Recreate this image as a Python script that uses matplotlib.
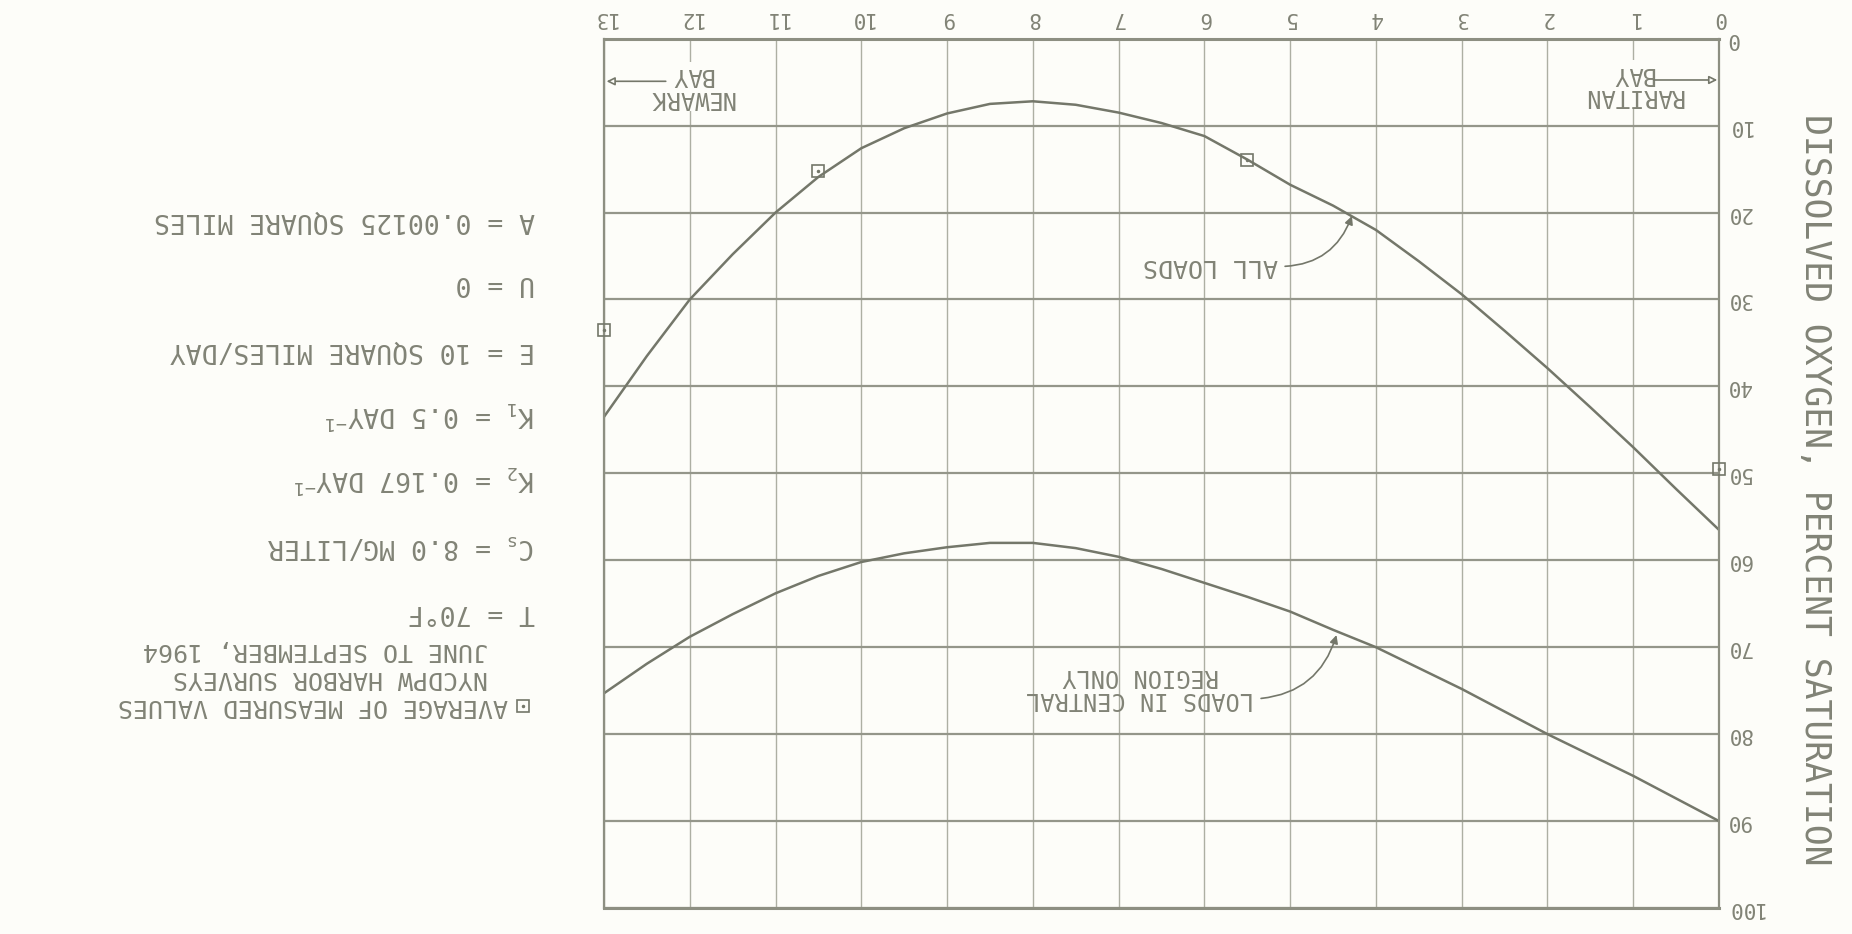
import matplotlib
matplotlib.use("Agg")
import matplotlib.pyplot as plt
from matplotlib.lines import Line2D

# Distance from Raritan Bay (miles) and dissolved oxygen (percent saturation)
miles = [0, 0.5, 1, 1.5, 2, 2.5, 3, 3.5, 4, 4.5, 5, 5.5, 6, 6.5,
         7, 7.5, 8, 8.5, 9, 9.5, 10, 10.5, 11, 11.5, 12, 12.5, 13]
do_all_loads = [56.5, 51.8, 47.0, 42.4, 37.9, 33.6, 29.4, 25.6, 22.0, 19.2,
                16.8, 13.9, 11.2, 9.7, 8.5, 7.6, 7.2, 7.5, 8.6, 10.3,
                12.6, 15.9, 20.0, 24.8, 30.0, 36.5, 43.5]
do_central = [90.0, 87.4, 84.8, 82.4, 80.0, 77.4, 74.8, 72.4, 70.0, 68.0,
              65.9, 64.2, 62.6, 61.0, 59.6, 58.6, 58.0, 58.0, 58.5, 59.2,
              60.2, 61.8, 63.8, 66.2, 68.8, 71.9, 75.3]

# Averages of measured values, NYCDPW harbor surveys
meas_miles = [13, 10.5, 5.5, 0]
meas_do = [33.5, 15.2, 14.0, 49.5]

x_ticks = list(range(0, 14))
y_ticks = list(range(0, 101, 10))

params = ["A = 0.00125 SQUARE MILES",
          "U = 0",
          "E = 10 SQUARE MILES/DAY",
          r"K$_1$ = 0.5 DAY$^{-1}$",
          r"K$_2$ = 0.167 DAY$^{-1}$",
          r"C$_s$ = 8.0 MG/LITER",
          "T = 70°F"]
legend_lines = ["AVERAGE OF MEASURED VALUES",
                "NYCDPW HARBOR SURVEYS",
                "JUNE TO SEPTEMBER, 1964"]

ink = "#818376"
line_ink = "#74776a"
paper = "#fdfdf9"

plt.rcParams["font.family"] = ["DejaVu Sans Mono", "DejaVu Sans"]
plt.rcParams["mathtext.default"] = "regular"

W, H = 1852, 934
fig = plt.figure(figsize=(W / 100, H / 100), dpi=100, facecolor=paper)
ax = fig.add_axes([604 / W, 1 - 908 / H, (1719 - 604) / W, (908 - 38.7) / H])
ax.set_facecolor(paper)

# sheet is printed upside down
ax.set_xlim(13, 0)
ax.set_ylim(100, 0)
ax.xaxis.tick_top()
ax.yaxis.tick_right()
ax.set_xticks(x_ticks)
ax.set_yticks(y_ticks)
ax.set_xticklabels([str(v) for v in x_ticks], rotation=180, fontsize=15, color=ink)
ax.set_yticklabels([str(v) for v in y_ticks], rotation=180, fontsize=15, color=ink,
                   va="center")
ax.tick_params(axis="x", length=0, pad=8)
ax.tick_params(axis="y", length=0, pad=5)

ax.grid(axis="y", color="#94968a", lw=1.6)
ax.grid(axis="x", color="#adafa3", lw=1.0)
ax.set_axisbelow(True)
for s in ax.spines.values():
    s.set_color("#8d8f82")
    s.set_linewidth(1.6)
ax.spines["top"].set_linewidth(2.2)
ax.spines["bottom"].set_linewidth(2.2)

ax.plot(miles, do_all_loads, color=line_ink, lw=1.8)
ax.plot(miles, do_central, color=line_ink, lw=1.8)
ax.plot(meas_miles, meas_do, ls="none", marker="s", ms=9, mfc="none",
        mec=line_ink, mew=1.2, clip_on=False, zorder=5)
ax.plot(meas_miles, meas_do, ls="none", marker=".", ms=3, color=line_ink,
        clip_on=False, zorder=5)

# curve labels
ax.annotate("ALL LOADS", xy=(4.28, 20.4), xytext=(5.14, 26.2),
            rotation=180, ha="right", va="center", fontsize=18, color=ink,
            arrowprops=dict(arrowstyle="-|>", connectionstyle="arc3,rad=0.35",
                            color=line_ink, lw=1.2, mutation_scale=12,
                            shrinkA=3, shrinkB=0, relpos=(1, 0.5)))
ax.annotate("LOADS IN CENTRAL\nREGION ONLY", xy=(4.46, 68.6), xytext=(5.42, 74.6),
            rotation=180, ha="right", va="center", multialignment="center",
            fontsize=17, color=ink, linespacing=0.95,
            arrowprops=dict(arrowstyle="-|>", connectionstyle="arc3,rad=0.35",
                            color=line_ink, lw=1.2, mutation_scale=12,
                            shrinkA=3, shrinkB=0, relpos=(1, 0.25)))

ax.text(11.98, 5.5, "NEWARK\nBAY", rotation=180, ha="center", va="center",
        multialignment="center", fontsize=17, color=ink, linespacing=0.9,
        bbox=dict(fc=paper, ec="none", pad=1))
ax.annotate("", xy=(12.97, 4.9), xytext=(12.28, 4.9),
            arrowprops=dict(arrowstyle="-|>", color=line_ink, lw=1.2,
                            fc=paper, mutation_scale=12, shrinkA=0, shrinkB=0))
ax.text(1.0, 5.3, "RARITAN\nBAY", rotation=180, ha="center", va="center",
        multialignment="center", fontsize=17, color=ink, linespacing=0.9,
        bbox=dict(fc=paper, ec="none", pad=1))
ax.annotate("", xy=(0.02, 4.75), xytext=(0.76, 4.75),
            arrowprops=dict(arrowstyle="-|>", color=line_ink, lw=1.2,
                            fc=paper, mutation_scale=12, shrinkA=0, shrinkB=0))

# axis title on the right edge
fig.text(1815 / W, 1 - 490 / H, "DISSOLVED OXYGEN, PERCENT SATURATION",
         rotation=270, ha="center", va="center", fontsize=25, color=ink)

# constants used for the computed curves
param_y = [220, 283, 350, 416, 481, 546, 612]
for txt, py in zip(params, param_y):
    fig.text(535 / W, 1 - py / H, txt, rotation=180, ha="right", va="center",
             fontsize=19, color=ink)

leg_y = [706, 678, 650]
leg_x = [508, 488, 488]
for txt, px, py in zip(legend_lines, leg_x, leg_y):
    fig.text(px / W, 1 - py / H, txt, rotation=180, ha="right", va="center",
             fontsize=18, color=ink)
fig.add_artist(Line2D([523 / W], [1 - 706 / H], transform=fig.transFigure,
                      ls="none", marker="s", ms=9, mfc="none", mec=line_ink,
                      mew=1.2))
fig.add_artist(Line2D([523 / W], [1 - 706 / H], transform=fig.transFigure,
                      ls="none", marker=".", ms=3, color=line_ink))

fig.savefig("out.png", dpi=100, facecolor=paper)
